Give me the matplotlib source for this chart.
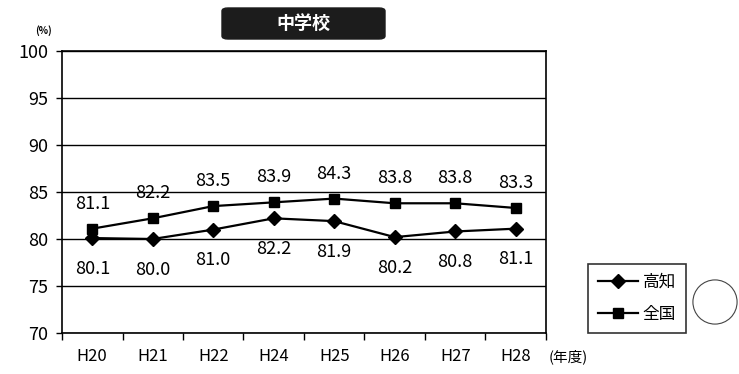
import matplotlib
matplotlib.use('Agg')
import matplotlib.pyplot as plt
from matplotlib.patches import Circle, FancyBboxPatch

plt.rcParams['font.family'] = ['Noto Sans CJK JP', 'DejaVu Sans']

# data
years = ['H20', 'H21', 'H22', 'H24', 'H25', 'H26', 'H27', 'H28']
kochi = [80.1, 80.0, 81.0, 82.2, 81.9, 80.2, 80.8, 81.1]
zenkoku = [81.1, 82.2, 83.5, 83.9, 84.3, 83.8, 83.8, 83.3]
series_names = ['高知', '全国']

W, H = 739, 374
fig = plt.figure(figsize=(W / 100, H / 100), dpi=100)
ax = fig.add_axes([62 / W, 41 / H, 484 / W, 282 / H])

x = range(len(years))
ax.plot(x, kochi, color='black', marker='D', markersize=7.5, linewidth=1.6, label=series_names[0])
ax.plot(x, zenkoku, color='black', marker='s', markersize=7.5, linewidth=1.6, label=series_names[1])

# data labels
for i, v in enumerate(zenkoku):
    ax.annotate(f'{v:.1f}', (i, v), xytext=(0, 18), textcoords='offset points',
                ha='center', va='center', fontsize=13)
for i, v in enumerate(kochi):
    ax.annotate(f'{v:.1f}', (i, v), xytext=(0, -22), textcoords='offset points',
                ha='center', va='center', fontsize=13)

ax.set_ylim(70, 100)
ax.set_xlim(-0.5, len(years) - 0.5)
ax.set_yticks(range(70, 101, 5))
ax.grid(axis='y', color='black', linewidth=1)
ax.set_axisbelow(True)
ax.set_xticks(list(x))
ax.set_xticklabels(years, fontsize=12)
ax.tick_params(axis='x', length=0, pad=11)
ax.set_xticks([i + 0.5 for i in range(-1, len(years))], minor=True)
ax.tick_params(axis='x', which='minor', length=5, direction='out', width=1)
ax.tick_params(axis='y', labelsize=13, length=4, width=1, direction='out', pad=6)
for s in ax.spines.values():
    s.set_color('black')
    s.set_linewidth(1.2)

fig.text(35 / W, 1 - 31 / H, '(%)', fontsize=7, ha='left', va='center', fontweight='bold')
fig.text(549 / W, 1 - 357 / H, '(年度)', fontsize=10.5, ha='left', va='center')

# title box
fig.patches.append(FancyBboxPatch((222 / W, 1 - 39 / H), 163 / W, 31 / H,
                                  boxstyle='round,pad=0,rounding_size=0.008',
                                  transform=fig.transFigure, facecolor='#1c1c1c',
                                  edgecolor='#1c1c1c', figure=fig))
fig.text(303 / W, 1 - 23 / H, '中学校', fontsize=13, fontweight='bold', color='white',
         ha='center', va='center')

leg = fig.legend(loc='center', bbox_to_anchor=(637 / W, 1 - 298 / H), fontsize=12,
                 frameon=True, fancybox=False, edgecolor='black', handlelength=2.4,
                 borderpad=0.6, labelspacing=0.9, handletextpad=0.3)
leg.get_frame().set_linewidth(1.2)

ax_c = fig.add_axes([692 / W, 1 - 325 / H, 46 / W, 46 / H])
ax_c.add_patch(Circle((0.5, 0.5), 0.48, fill=False, edgecolor='#444444', linewidth=0.8))
ax_c.set_xlim(0, 1)
ax_c.set_ylim(0, 1)
ax_c.axis('off')

fig.savefig('out.png', dpi=100)
